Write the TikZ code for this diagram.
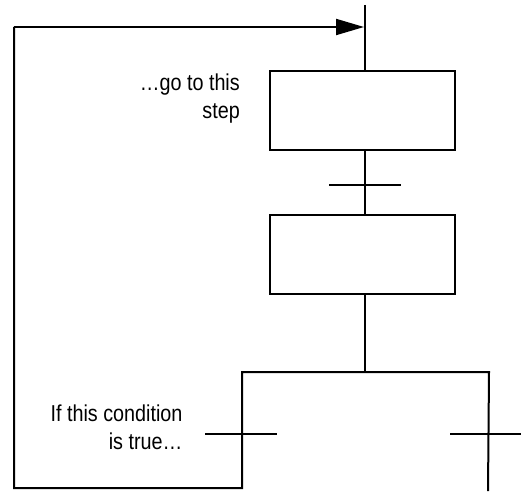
\documentclass[tikz,border=0pt]{standalone}
\usepackage{fontspec}
\newfontfamily\lab{Liberation Sans}[FakeStretch=0.86]
\usetikzlibrary{arrows.meta}
\tikzset{
  wire/.style={line width=2pt, line cap=butt},
  stepbox/.style={draw, line width=2pt, minimum width=185pt, minimum height=79pt, inner sep=0pt},
  trans/.style={line width=2pt},
  lbl/.style={font=\lab\fontsize{23pt}{28pt}\selectfont, align=right, inner sep=0pt, anchor=base east},
}
\begin{document}
\begin{tikzpicture}[x=1pt,y=1pt]
\useasboundingbox (0,0) rectangle (524,491);
% steps
\node[stepbox] (s1) at (362.5,380.5) {};
\node[stepbox] (s2) at (362.5,237) {};
% coordinates
\coordinate (top) at (365,486);
\coordinate (arr) at (365,464);
\coordinate (t1l) at (329,306.5);
\coordinate (t1r) at (401,306.5);
\coordinate (div) at (365,119);
\coordinate (dl) at (242,119);
\coordinate (dr) at (489,119);
\coordinate (lb) at (242,3);
\coordinate (rb) at (488,0);
\coordinate (ll) at (14,3);
\coordinate (lt) at (14,464);
\coordinate (t2l) at (205,57.3);
\coordinate (t2r) at (277,57.3);
\coordinate (t3l) at (450,57.3);
\coordinate (t3r) at (521,57.3);
% main line
\draw[wire] (top) -- (top |- s1.north);
\draw[wire] (top |- s1.south) -- (top |- s2.north);
\draw[wire] (top |- s2.south) -- (div);
\draw[trans] (t1l) -- (t1r);
% divergence and jump back
\draw[wire] (rb) -- (dr |- div) -- (dl) -- (lb) -- (ll) -- (lt);
\draw[wire,-{Triangle[length=28pt,width=16pt]}] (lt) -- ([xshift=-1pt]arr);
\draw[trans] (t2l) -- (t2r);
\draw[trans] (t3l) -- (t3r);
% labels
\node[lbl] (g) at (240,372) {…go to this\\step};
\node[lbl] (c) at (182.7,42) {If this condition\\is true…};
\end{tikzpicture}
\end{document}
